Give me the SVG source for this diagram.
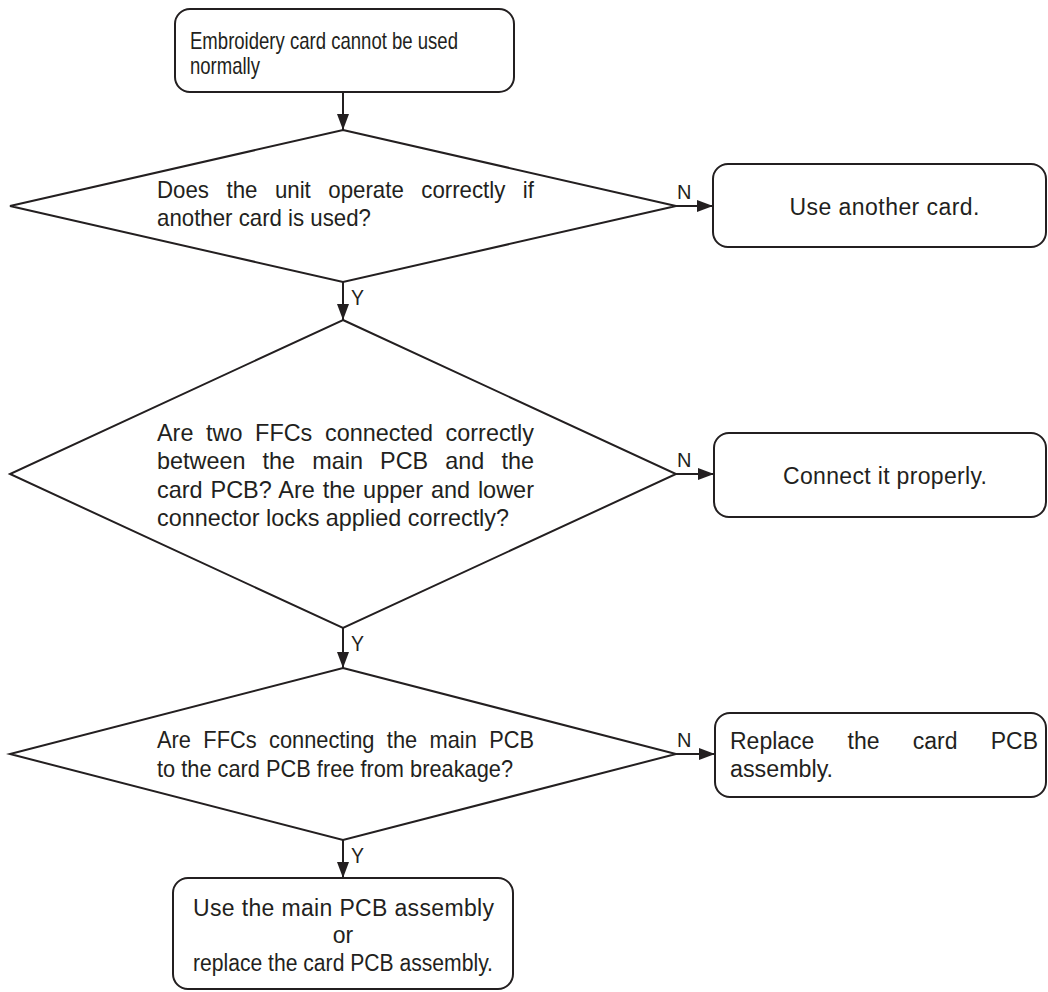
<svg xmlns="http://www.w3.org/2000/svg" width="1048" height="992" viewBox="0 0 1048 992">
<style>
.box{fill:#fff;stroke:#231f20;stroke-width:2}
.dia{fill:#fff;stroke:#231f20;stroke-width:2;stroke-linejoin:miter}
.t{font-family:"Liberation Sans",Arial,sans-serif;fill:#231f20}
.dt{font-size:24px}
.bt{font-size:23px}
.lbl{font-size:20px}
.conn line{stroke:#231f20;stroke-width:2}
</style>
<defs>
<marker id="ah" markerUnits="userSpaceOnUse" markerWidth="16" markerHeight="12" refX="16" refY="6" orient="auto">
<path d="M0,0 L16,6 L0,12 Z" fill="#231f20"/>
</marker>
</defs>
<rect width="1048" height="992" fill="#fff"/>

<g id="connectors" class="conn">
<line x1="343" y1="92" x2="343" y2="130" marker-end="url(#ah)"/>
<line x1="676" y1="206" x2="713" y2="206" marker-end="url(#ah)"/>
<line x1="343" y1="282" x2="343" y2="320" marker-end="url(#ah)"/>
<line x1="676" y1="474" x2="714" y2="474" marker-end="url(#ah)"/>
<line x1="343" y1="628" x2="343" y2="668" marker-end="url(#ah)"/>
<line x1="676" y1="754" x2="715" y2="754" marker-end="url(#ah)"/>
<line x1="343" y1="840" x2="343" y2="878" marker-end="url(#ah)"/>
<text class="t lbl" x="677" y="199">N</text>
<text class="t lbl" x="677" y="467">N</text>
<text class="t lbl" x="677" y="747">N</text>
<text class="t" font-size="22" x="351" y="305" textLength="13" lengthAdjust="spacingAndGlyphs">Y</text>
<text class="t" font-size="22" x="351" y="651" textLength="13" lengthAdjust="spacingAndGlyphs">Y</text>
<text class="t" font-size="22" x="351" y="863" textLength="13" lengthAdjust="spacingAndGlyphs">Y</text>
</g>

<g id="start">
<rect class="box" x="175" y="9" width="339" height="83" rx="15"/>
<text class="t dt" x="190" y="49" textLength="268" lengthAdjust="spacingAndGlyphs">Embroidery card cannot be used</text>
<text class="t dt" x="190" y="74" textLength="70" lengthAdjust="spacingAndGlyphs">normally</text>
</g>

<g id="decision1">
<polygon class="dia" points="343,130 676,206 343,282 10,206"/>
<text class="t dt" x="157" y="198" word-spacing="12.2" textLength="377" lengthAdjust="spacingAndGlyphs">Does the unit operate correctly if</text>
<text class="t dt" x="157" y="226" textLength="214" lengthAdjust="spacingAndGlyphs">another card is used?</text>
</g>

<g id="action1">
<rect class="box" x="713" y="164" width="333" height="83" rx="15"/>
<text class="t bt" x="789.5" y="215" textLength="190" lengthAdjust="spacing">Use another card.</text>
</g>

<g id="decision2">
<polygon class="dia" points="343,320 676,474 343,628 10,474"/>
<text class="t dt" x="157" y="441" word-spacing="6.3" textLength="377" lengthAdjust="spacingAndGlyphs">Are two FFCs connected correctly</text>
<text class="t dt" x="157" y="469" word-spacing="10.9" textLength="377" lengthAdjust="spacingAndGlyphs">between the main PCB and the</text>
<text class="t dt" x="157" y="498" word-spacing="1.3" textLength="377" lengthAdjust="spacingAndGlyphs">card PCB? Are the upper and lower</text>
<text class="t dt" x="157" y="526" textLength="352" lengthAdjust="spacingAndGlyphs">connector locks applied correctly?</text>
</g>

<g id="action2">
<rect class="box" x="714" y="433" width="332" height="84" rx="15"/>
<text class="t bt" x="783" y="484" textLength="204" lengthAdjust="spacing">Connect it properly.</text>
</g>

<g id="decision3">
<polygon class="dia" points="343,668 676,754 343,840 10,754"/>
<text class="t dt" x="157" y="748" word-spacing="7" textLength="377" lengthAdjust="spacingAndGlyphs">Are FFCs connecting the main PCB</text>
<text class="t dt" x="157" y="777" textLength="356" lengthAdjust="spacingAndGlyphs">to the card PCB free from breakage?</text>
</g>

<g id="action3">
<rect class="box" x="715" y="713" width="331" height="84" rx="15"/>
<text class="t bt" x="730" y="749" word-spacing="26.8" textLength="308" lengthAdjust="spacingAndGlyphs">Replace the card PCB</text>
<text class="t bt" x="730" y="777" textLength="103" lengthAdjust="spacingAndGlyphs">assembly.</text>
</g>

<g id="end">
<rect class="box" x="173" y="878" width="340" height="111" rx="15"/>
<text class="t bt" x="193" y="916" textLength="301" lengthAdjust="spacing">Use the main PCB assembly</text>
<text class="t bt" x="343" y="943" text-anchor="middle">or</text>
<text class="t bt" x="193" y="971" textLength="300" lengthAdjust="spacingAndGlyphs">replace the card PCB assembly.</text>
</g>
</svg>
